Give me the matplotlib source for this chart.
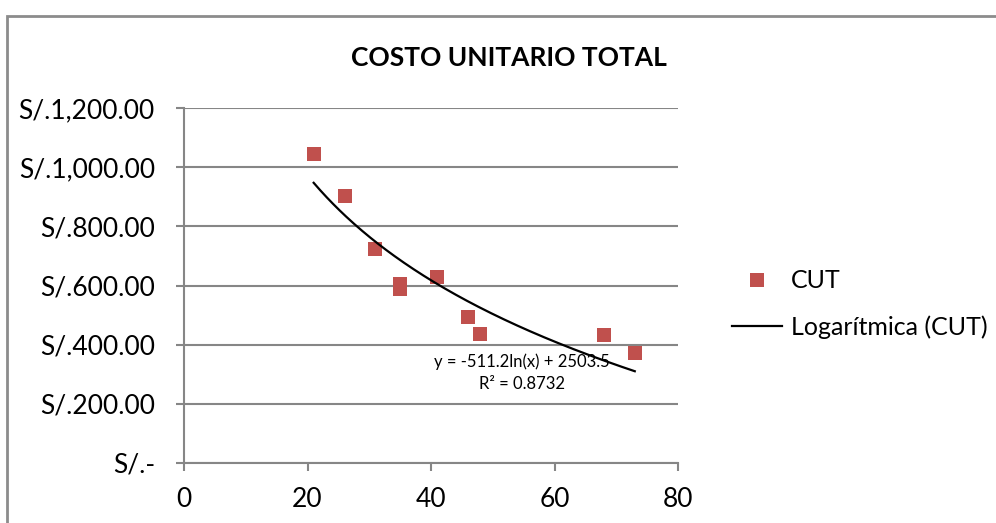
import numpy as np
import matplotlib
matplotlib.use("Agg")
import matplotlib.pyplot as plt
from matplotlib.lines import Line2D
from matplotlib.patches import Rectangle
from matplotlib.ticker import FuncFormatter

# datos de costo unitario total
cantidad = [21, 26, 31, 35, 35, 41, 46, 48, 68, 73]
cut = [1045, 902, 723, 604, 588, 628, 495, 436, 433, 373]

# coeficientes de la tendencia logaritmica
coef_a = -511.2
coef_b = 2503.5
r2 = 0.8732

ROJO = '#C0504D'
GRIS = '#868686'

plt.rcParams['font.family'] = ['Lato', 'DejaVu Sans']

fig = plt.figure(figsize=(9.96, 5.23), dpi=100)
ax = fig.add_axes([184 / 996, 1 - 463 / 523, (678 - 184) / 996, (463 - 108) / 523])

# marco del grafico
fig.patches.append(Rectangle((7 / 996, -0.1), 1.2, 1 - 16 / 523 + 0.1,
                             transform=fig.transFigure, fill=False,
                             edgecolor='#8c8c8c', linewidth=2))

ax.scatter(cantidad, cut, marker='s', s=115, color=ROJO, zorder=3, linewidths=0)

xs = np.linspace(min(cantidad), max(cantidad), 200)
ax.plot(xs, coef_a * np.log(xs) + coef_b, color='black', linewidth=1.6, zorder=4)

ax.set_xlim(0, 80)
ax.set_ylim(0, 1200)
ax.set_xticks(range(0, 81, 20))
ax.set_yticks(range(0, 1201, 200))


def soles(v, pos):
    if v == 0:
        return 'S/.-'
    return 'S/.{:,.2f}'.format(v)


ax.yaxis.set_major_formatter(FuncFormatter(soles))
ax.grid(axis='y', color=GRIS, linewidth=1.5)
ax.set_axisbelow(True)
for s in ['top', 'right']:
    ax.spines[s].set_visible(False)
for s in ['left', 'bottom']:
    ax.spines[s].set_color(GRIS)
    ax.spines[s].set_linewidth(1.5)
ax.tick_params(axis='both', colors=GRIS, labelcolor='black', labelsize=19,
               length=6, width=1.5)
ax.tick_params(axis='y', pad=15)
ax.tick_params(axis='x', pad=11)

fig.text(509 / 996, 1 - 58 / 523, 'COSTO UNITARIO TOTAL', ha='center', va='center',
         fontsize=19, fontweight='bold')

# ecuacion y R² de la tendencia
fig.text(522 / 996, 1 - 362 / 523, f'y = {coef_a}ln(x) + {coef_b}',
         ha='center', va='center', fontsize=12)
fig.text(522 / 996, 1 - 384 / 523, f'R² = {r2}', ha='center', va='center', fontsize=12)

handles = [Line2D([], [], linestyle='none', marker='s', markersize=10.5,
                  color=ROJO, markeredgewidth=0),
           Line2D([], [], color='black', linewidth=1.6)]
fig.legend(handles, ['CUT', 'Logarítmica (CUT)'], loc='center left',
           bbox_to_anchor=(732 / 996, 1 - 304 / 523), frameon=False,
           fontsize=18, handlelength=2.0, handletextpad=0.35,
           labelspacing=0.9, borderpad=0, borderaxespad=0)

fig.savefig('out.png', dpi=100)
